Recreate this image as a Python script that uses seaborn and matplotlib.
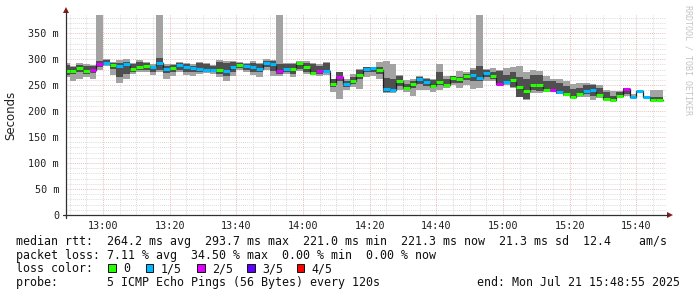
import numpy as np
import pandas as pd
import matplotlib
matplotlib.use("Agg")
import matplotlib.pyplot as plt
import seaborn as sns
from matplotlib.patches import Rectangle, Polygon
from matplotlib.lines import Line2D

# ---------------- data ----------------
# start of each 2-minute step, minutes after 12:00
step_start_min = list(range(48, 228, 2))
step_len_min = 2

median_ms = [277, 277, 283, 277.5, 279, 291, 293.5, 289, 286, 290,
             282, 285, 286, 284, 293.5, 282, 283, 288, 284, 283,
             281, 279, 280, 279, 277, 284, 289, 286, 284, 282,
             293, 290, 277.5, 282, 281, 293, 285, 274, 278, 278,
             252, 265, 253, 258, 270, 282, 283, 280, 242, 240,
             258, 244, 252, 261, 256, 249, 256, 251, 263, 261,
             267, 269, 264, 274, 267, 253, 256, 260, 247, 239,
             251, 251, 240, 240, 236.5, 233, 228, 233, 238, 240,
             231, 224, 222, 229, 242, 227, 239, 227.5, 222, 222]

# lost pings out of 5 for each step
loss_level = [0, 0, 0, 0, 2, 2, 1, 0, 1, 1,
              0, 0, 0, 1, 1, 1, 0, 1, 1, 1,
              1, 1, 1, 0, 1, 1, 0, 1, 1, 1,
              1, 1, 2, 1, 0, 0, 0, 0, 2, 1,
              0, 2, 1, 0, 0, 1, 1, 0, 1, 1,
              0, 0, 0, 1, 1, 0, 0, 0, 0, 0,
              0, 1, 1, 1, 0, 2, 1, 0, 0, 0,
              0, 0, 0, 2, 1, 0, 0, 0, 1, 1,
              0, 0, 0, 0, 2, 1, 1, 1, 0, 0]

# outer smoke (fastest .. slowest ping)
smoke_outer_lo = [265, 257, 262, 265, 262, 280, 287, 270, 255, 262,
                  272, 275, 276, 270, 275, 262, 268, 275, 270, 268,
                  272, 273, 272, 266, 258, 268, 280, 276, 270, 265,
                  280, 267, 268, 272, 265, 277, 272, 270, 267, 270,
                  237, 224, 240, 247, 243, 265, 268, 262, 235, 235,
                  240, 237, 230, 240, 240, 236, 240, 245, 250, 245,
                  250, 242, 245, 258, 258, 250, 250, 245, 228, 222,
                  235, 235, 236, 236, 232, 230, 226, 228, 228, 222,
                  225, 222, 221, 225, 230, 225, 239, 226, 222, 222]
smoke_outer_hi = [292, 287, 292, 290, 288, 386, 300, 295, 298, 300,
                  293, 298, 295, 290, 386, 290, 290, 294, 293, 290,
                  295, 293, 288, 298, 296, 297, 295, 292, 297, 293,
                  300, 299, 386, 293, 293, 297, 297, 293, 290, 295,
                  262, 275, 262, 272, 282, 285, 285, 295, 297, 290,
                  270, 260, 262, 268, 263, 262, 290, 268, 268, 278,
                  275, 283, 386, 282, 283, 280, 283, 285, 287, 275,
                  280, 278, 268, 262, 262, 258, 253, 255, 255, 252,
                  250, 240, 238, 238, 245, 232, 239, 229, 240, 240]
# inner smoke (2nd .. 4th ping)
smoke_inner_lo = [270, 272, 275, 272, 274, 284, 289, 281, 265, 272,
                  276, 280, 280, 276, 280, 274, 275, 280, 276, 275,
                  276, 277, 275, 272, 268, 275, 283, 280, 275, 276,
                  284, 277, 272, 276, 272, 282, 276, 273, 272, 276,
                  247, 258, 247, 253, 262, 276, 275, 272, 237, 238,
                  248, 242, 245, 252, 248, 245, 250, 248, 255, 255,
                  260, 258, 258, 265, 262, 252, 254, 247, 228, 224,
                  240, 238, 238, 238, 233, 232, 228, 230, 232, 230,
                  228, 222, 222, 226, 232, 226, 239, 226, 222, 222]
smoke_inner_hi = [288, 284, 289, 287, 287, 297, 298, 293, 293, 295,
                  290, 295, 293, 287, 302, 287, 288, 292, 290, 287,
                  292, 290, 287, 295, 293, 295, 293, 290, 293, 290,
                  297, 297, 290, 290, 290, 295, 293, 290, 287, 293,
                  262, 275, 258, 265, 280, 284, 284, 285, 263, 262,
                  268, 253, 258, 265, 262, 260, 275, 262, 267, 266,
                  272, 280, 287, 280, 275, 277, 270, 275, 266, 262,
                  270, 270, 258, 258, 255, 248, 242, 245, 250, 250,
                  245, 236, 230, 236, 245, 230, 239, 229, 228, 228]

y_ticks_ms = [0, 50, 100, 150, 200, 250, 300, 350]
y_tick_labels = ["0", "50 m", "100 m", "150 m", "200 m", "250 m", "300 m", "350 m"]
x_ticks_min = [60, 80, 100, 120, 140, 160, 180, 200, 220]
x_tick_labels = ["13:00", "13:20", "13:40", "14:00", "14:20", "14:40",
                 "15:00", "15:20", "15:40"]

loss_labels = ["0", "1/5", "2/5", "3/5", "4/5"]
loss_colors = ["#26ff00", "#00b8ff", "#dd00ff", "#5e00ff", "#ff0000"]

legend_rows = [
    "median rtt:  264.2 ms avg  293.7 ms max  221.0 ms min  221.3 ms now  21.3 ms sd  12.4    am/s",
    "packet loss: 7.11 % avg  34.50 % max  0.00 % min  0.00 % now",
]
probe_text = "probe:       5 ICMP Echo Pings (56 Bytes) every 120s"
end_text = "end: Mon Jul 21 15:48:55 2025"

# ---------------- figure ----------------
sns.set_theme(style="white")
plt.rcParams["font.family"] = ["DejaVu Sans Mono", "DejaVu Sans"]

W, H = 697, 297
fig = plt.figure(figsize=(W / 100, H / 100), dpi=100)
fig.patch.set_facecolor("white")

x0_px, x1_px, ybot_px, ytop_px = 66, 666, 215, 15
ax = fig.add_axes([x0_px / W, (H - ybot_px) / H, (x1_px - x0_px) / W,
                   (ybot_px - ytop_px) / H])
ax.set_facecolor("white")

x_start = 48 + 55 / 60  # 12:48:55
ax.set_xlim(x_start, x_start + 180)
ax.set_ylim(0, 385)

# grid
minor_grid = dict(color="#d6d6d6", linestyle=(0, (1, 1.3)), linewidth=0.65)
major_grid = dict(color="#e8b4b4", linestyle=(0, (1, 1.3)), linewidth=0.65)
for v in np.arange(10, 385, 10):
    if v % 50:
        ax.axhline(v, zorder=0, **minor_grid)
for v in np.arange(50, 385, 50):
    ax.axhline(v, zorder=0, **major_grid)
for m in np.arange(50, 230, 5):
    if m % 20:
        ax.axvline(m, zorder=0, **minor_grid)
for m in x_ticks_min:
    ax.axvline(m, zorder=0, **major_grid)

# step edges
xs = np.array(step_start_min + [step_start_min[-1] + step_len_min], dtype=float)

def ext(a):
    a = list(a)
    return np.array(a + [a[-1]], dtype=float)

ax.fill_between(xs, ext(smoke_outer_lo), ext(smoke_outer_hi), step="post",
                color="#a3a3a3", linewidth=0, zorder=2)
ax.fill_between(xs, ext(smoke_inner_lo), ext(smoke_inner_hi), step="post",
                color="#4f4f4f", linewidth=0, zorder=3)

df = pd.DataFrame({"t": xs, "median": ext(median_ms)})
sns.lineplot(data=df, x="t", y="median", drawstyle="steps-post",
             color="#202020", linewidth=0.9, ax=ax, zorder=4, sort=False)

starts = np.array(step_start_min, dtype=float)
ax.hlines(median_ms, starts, starts + step_len_min,
          colors=[loss_colors[l] for l in loss_level], linewidth=2.2, zorder=5)

# axes styling
for s in ["top", "right", "left", "bottom"]:
    ax.spines[s].set_visible(False)

ax.set_yticks(y_ticks_ms)
ax.set_yticklabels(y_tick_labels)
ax.set_yticks(np.arange(0, 385, 10), minor=True)
ax.set_xticks(x_ticks_min)
ax.set_xticklabels(x_tick_labels)
ax.set_xticks(np.arange(50, 230, 5), minor=True)
ax.tick_params(axis="both", which="major", direction="inout", length=3,
               width=0.8, color="#404040", labelsize=7.3, labelcolor="#202020")
ax.tick_params(axis="y", which="major", pad=3.5)
ax.tick_params(axis="x", which="major", pad=3.0)
ax.tick_params(axis="both", which="minor", direction="inout", length=2,
               width=0.6, color="#606060")
ax.set_xlabel("")
ax.set_ylabel("")

# overlay in pixel coordinates
ov = fig.add_axes([0, 0, 1, 1], facecolor="none")
ov.set_xlim(0, W)
ov.set_ylim(H, 0)
ov.axis("off")

# axis lines with arrows
ov.add_line(Line2D([x0_px, x0_px], [ybot_px + 3, 11], color="#303030", lw=0.9))
ov.add_line(Line2D([x0_px - 3, 668], [ybot_px, ybot_px], color="#303030", lw=0.9))
ov.add_patch(Polygon([[x0_px - 3, 13], [x0_px + 3, 13], [x0_px, 7]],
                     closed=True, color="#8b1a1a", lw=0))
ov.add_patch(Polygon([[667, ybot_px - 3], [667, ybot_px + 3], [673, ybot_px]],
                     closed=True, color="#8b1a1a", lw=0))

ov.text(11, 115, "Seconds", rotation=90, ha="center", va="center",
        fontsize=8.5, family="DejaVu Sans", color="#202020")
ov.text(688, 5, "RRDTOOL / TOBI OETIKER", rotation=270, ha="center", va="top",
        fontsize=6.0, color="#c4c4c4")

fs = 8.4
ov.text(16, 244.5, legend_rows[0], fontsize=fs, va="baseline", ha="left", color="#101010")
ov.text(16, 258.5, legend_rows[1], fontsize=fs, va="baseline", ha="left", color="#101010")
ov.text(16, 272.0, "loss color:", fontsize=fs, va="baseline", ha="left", color="#101010")
box_x = [108, 145.7, 197.3, 247, 296.7]
for bx, lab, col in zip(box_x, loss_labels, loss_colors):
    ov.add_patch(Rectangle((bx, 264.3), 7.5, 7.5, facecolor=col,
                           edgecolor="#101010", lw=0.7))
    ov.text(bx + 15, 272.0, lab, fontsize=fs, va="baseline", ha="left", color="#101010")
ov.text(16, 286.0, probe_text, fontsize=fs, va="baseline", ha="left", color="#101010")
ov.text(680, 286.0, end_text, fontsize=fs, va="baseline", ha="right", color="#101010")

fig.savefig("out.png", dpi=100, facecolor="white")
